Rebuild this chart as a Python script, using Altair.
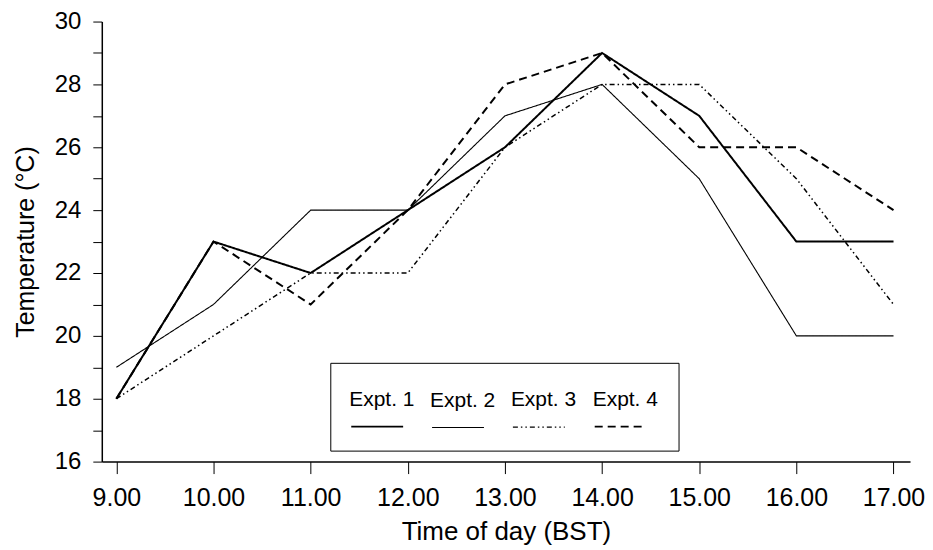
import altair as alt
import pandas as pd

times = [9, 10, 11, 12, 13, 14, 15, 16, 17]
series_names = ["Expt. 1", "Expt. 2", "Expt. 3", "Expt. 4"]
expt1 = [18, 23, 22, 24, 26, 29, 27, 23, 23]
expt2 = [19, 21, 24, 24, 27, 28, 25, 20, 20]
expt3 = [18, 20, 22, 22, 26, 28, 28, 25, 21]
expt4 = [18, 23, 21, 24, 28, 29, 26, 26, 24]

rows = []
for name, vals in zip(series_names, [expt1, expt2, expt3, expt4]):
    for t, v in zip(times, vals):
        rows.append({"time": t, "temp": v, "series": name})
df = pd.DataFrame(rows)

FONT = "Liberation Sans"

chart = alt.Chart(df).mark_line(color="black", strokeCap="butt").encode(
    x=alt.X("time:Q",
            scale=alt.Scale(domain=[8.85, 17.17], nice=False, zero=False),
            axis=alt.Axis(values=times, format=".2f", title="Time of day (BST)",
                          grid=False, tickSize=12, labelPadding=12,
                          labelFontSize=25, titleFontSize=26, titlePadding=8,
                          domainColor="black", tickColor="black", labelColor="black",
                          titleColor="black", domainWidth=1.5, tickWidth=1,
                          labelFont=FONT, titleFont=FONT, titleFontWeight="normal",
                          labelFlush=False)),
    y=alt.Y("temp:Q",
            scale=alt.Scale(domain=[16, 30], nice=False, zero=False),
            axis=alt.Axis(values=list(range(16, 31)),
                          labelExpr="datum.value % 2 == 0 ? datum.label : ''",
                          title="Temperature (°C)", grid=False, tickSize=9,
                          labelPadding=12, labelFontSize=24, titleFontSize=25,
                          titlePadding=16, domainColor="black", tickColor="black",
                          labelColor="black", titleColor="black", domainWidth=1.5,
                          labelFont=FONT, titleFont=FONT, titleFontWeight="normal",
                          labelFlush=False)),
    strokeDash=alt.StrokeDash("series:N",
        scale=alt.Scale(domain=series_names,
                        range=[[1, 0], [1, 0], [5, 3, 1.5, 3, 1.5, 3], [8, 5]]),
        legend=alt.Legend(orient="none", legendX=229, legendY=342,
                          direction="horizontal", columns=4, title=None,
                          symbolType="M-1,0.65L1,0.65", symbolSize=2704,
                          symbolStrokeColor="black", symbolStrokeWidth=1.5,
                          symbolFillColor="transparent",
                          labelBaseline="bottom", labelOffset={"expr": "-55"},
                          labelFontSize=21, labelFont=FONT, labelColor="black",
                          columnPadding=14, padding=20,
                          fillColor="white", strokeColor="black")),
    strokeWidth=alt.StrokeWidth("series:N",
        scale=alt.Scale(type="ordinal", domain=series_names, range=[2, 1.1, 1.5, 2]),
        legend=None),
    detail="series:N",
).properties(
    width=810, height=441,
    autosize=alt.AutoSizeParams(type="none"),
    padding={"left": 94, "top": 13, "right": 15, "bottom": 86},
).configure_view(stroke=None)

chart.save("out.html", embed_options={"renderer": "svg", "actions": False})
